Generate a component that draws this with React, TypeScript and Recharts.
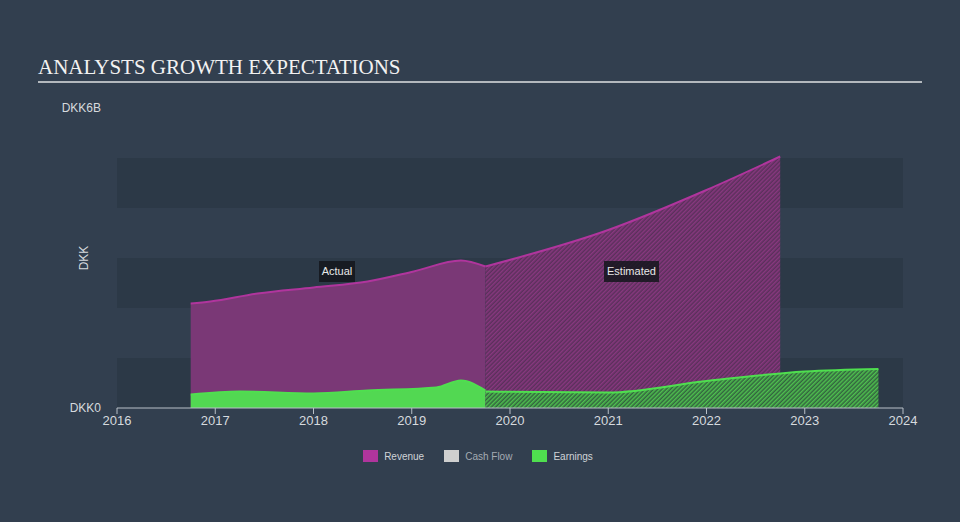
import React from "react";
import {
  ComposedChart,
  Area,
  XAxis,
  YAxis,
  ReferenceArea,
} from "recharts";

// years as decimals, values in DKK billions
const REVENUE_ACTUAL = [
  { x: 2016.75, v: 2.09 },
  { x: 2016.95, v: 2.13 },
  { x: 2017.43, v: 2.29 },
  { x: 2018.0, v: 2.41 },
  { x: 2018.55, v: 2.53 },
  { x: 2019.02, v: 2.73 },
  { x: 2019.5, v: 2.95 },
  { x: 2019.75, v: 2.83 },
];
const REVENUE_ESTIMATED = [
  { x: 2019.75, v: 2.83 },
  { x: 2021.0, v: 3.56 },
  { x: 2022.0, v: 4.36 },
  { x: 2022.75, v: 5.03 },
];
const EARNINGS_ACTUAL = [
  { x: 2016.75, v: 0.27 },
  { x: 2017.25, v: 0.33 },
  { x: 2018.0, v: 0.29 },
  { x: 2018.55, v: 0.35 },
  { x: 2019.25, v: 0.41 },
  { x: 2019.5, v: 0.55 },
  { x: 2019.75, v: 0.35 },
];
const EARNINGS_ESTIMATED = [
  { x: 2019.75, v: 0.33 },
  { x: 2021.0, v: 0.31 },
  { x: 2022.0, v: 0.54 },
  { x: 2023.0, v: 0.73 },
  { x: 2023.75, v: 0.78 },
];
const YEAR_TICKS = [2016, 2017, 2018, 2019, 2020, 2021, 2022, 2023, 2024];
const VALUE_TICKS = [0, 6];
const BANDS = [
  [0, 1],
  [2, 3],
  [4, 5],
];
const LEGEND = [
  { name: "Revenue", color: "#b0359d" },
  { name: "Cash Flow", color: "#cfcfcf" },
  { name: "Earnings", color: "#4fdf4f" },
];

const FONT = '"Liberation Sans", Arial, sans-serif';

const fmtValue = (v: number) => (v === 0 ? "DKK0" : `DKK${v}B`);

export default function App() {
  return (
    <div
      style={{
        position: "absolute",
        left: 0,
        top: 0,
        width: 960,
        height: 522,
        background: "#323f4f",
        fontFamily: FONT,
        overflow: "hidden",
      }}
    >
      <div
        style={{
          position: "absolute",
          left: 38,
          top: 54,
          fontFamily: '"Liberation Serif", "Times New Roman", serif',
          fontSize: 21,
          color: "#f2f2f2",
          lineHeight: "26px",
        }}
      >
        ANALYSTS GROWTH EXPECTATIONS
      </div>
      <div
        style={{
          position: "absolute",
          left: 38,
          top: 81,
          width: 884,
          height: 2,
          background: "#b3b8bd",
        }}
      />

      <ComposedChart
        width={960}
        height={522}
        margin={{ top: 108, right: 57, bottom: 84, left: 60 }}
        style={{ position: "absolute", left: 0, top: 0 }}
      >
        <defs>
          <pattern
            id="hatchRev"
            width="3"
            height="3"
            patternUnits="userSpaceOnUse"
            patternTransform="rotate(45)"
          >
            <rect width="3" height="3" fill="#5a305b" />
            <rect width="1.5" height="3" fill="#88387f" />
          </pattern>
          <pattern
            id="hatchEarn"
            width="3"
            height="3"
            patternUnits="userSpaceOnUse"
            patternTransform="rotate(45)"
          >
            <rect width="3" height="3" fill="#33633f" />
            <rect width="1.5" height="3" fill="#4fc04f" />
          </pattern>
        </defs>

        {BANDS.map(([a, b]) => (
          <ReferenceArea
            key={a}
            x1={2016}
            x2={2024}
            y1={a}
            y2={b}
            fill="#2c3947"
            fillOpacity={1}
            stroke="none"
            ifOverflow="visible"
          />
        ))}

        <XAxis
          type="number"
          dataKey="x"
          domain={[2016, 2024]}
          ticks={YEAR_TICKS}
          allowDataOverflow
          height={30}
          stroke="#b8c0c8"
          tickSize={6}
          tick={{ fill: "#d6dade", fontSize: 13, fontFamily: FONT }}
          tickLine={{ stroke: "#b8c0c8" }}
        />
        <YAxis
          type="number"
          domain={[0, 6]}
          ticks={VALUE_TICKS}
          width={57}
          axisLine={false}
          tickLine={false}
          tickMargin={10}
          tickFormatter={fmtValue}
          tick={{ fill: "#d6dade", fontSize: 12, fontFamily: FONT }}
        />

        <Area
          data={REVENUE_ACTUAL}
          dataKey="v"
          type="monotone"
          stroke="#b0359d"
          strokeWidth={2}
          fill="#7a3876"
          fillOpacity={1}
          isAnimationActive={false}
          dot={false}
          activeDot={false}
        />
        <Area
          data={REVENUE_ESTIMATED}
          dataKey="v"
          type="monotone"
          stroke="#b0359d"
          strokeWidth={2}
          fill="url(#hatchRev)"
          fillOpacity={1}
          isAnimationActive={false}
          dot={false}
          activeDot={false}
        />
        <Area
          data={EARNINGS_ACTUAL}
          dataKey="v"
          type="monotone"
          stroke="#4fdf4f"
          strokeWidth={2}
          fill="#52d852"
          fillOpacity={1}
          isAnimationActive={false}
          dot={false}
          activeDot={false}
        />
        <Area
          data={EARNINGS_ESTIMATED}
          dataKey="v"
          type="monotone"
          stroke="#4fdf4f"
          strokeWidth={2}
          fill="url(#hatchEarn)"
          fillOpacity={1}
          isAnimationActive={false}
          dot={false}
          activeDot={false}
        />
      </ComposedChart>

      <div
        style={{
          position: "absolute",
          left: 84,
          top: 258,
          transform: "translate(-50%, -50%) rotate(-90deg)",
          color: "#d6dade",
          fontSize: 12,
        }}
      >
        DKK
      </div>

      {[
        { text: "Actual", left: 319, width: 36 },
        { text: "Estimated", left: 604, width: 55 },
      ].map((t) => (
        <div
          key={t.text}
          style={{
            position: "absolute",
            left: t.left,
            top: 261,
            width: t.width,
            height: 21,
            background: "rgba(20,22,28,0.85)",
            color: "#e8e8e8",
            fontSize: 11,
            lineHeight: "21px",
            textAlign: "center",
          }}
        >
          {t.text}
        </div>
      ))}

      <div
        style={{
          position: "absolute",
          left: 8,
          top: 450,
          width: 960,
          display: "flex",
          justifyContent: "center",
          fontSize: 10,
        }}
      >
        {LEGEND.map((l) => (
          <div
            key={l.name}
            style={{ display: "flex", alignItems: "center", marginRight: 20 }}
          >
            <span
              style={{
                width: 15,
                height: 12,
                background: l.color,
                marginRight: 6,
                display: "inline-block",
              }}
            />
            <span style={{ color: l.name === "Cash Flow" ? "#a4abb3" : "#cfd3d7" }}>
              {l.name}
            </span>
          </div>
        ))}
      </div>
    </div>
  );
}
